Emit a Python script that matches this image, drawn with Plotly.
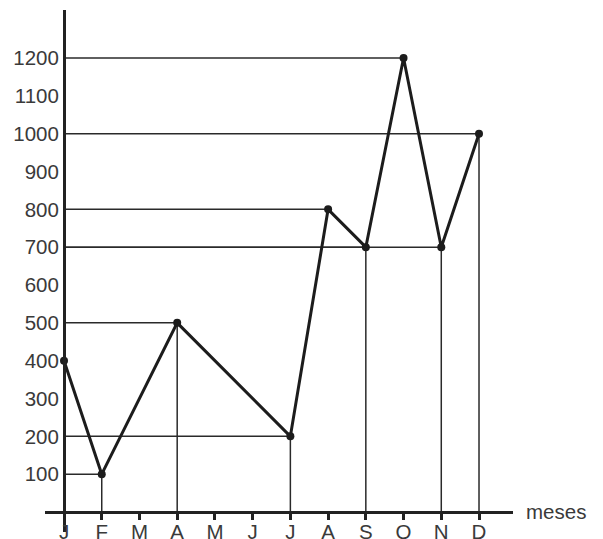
import plotly.graph_objects as go

# ---- data ----
months = ["J", "F", "M", "A", "M", "J", "J", "A", "S", "O", "N", "D"]
values = [400, 100, None, 500, None, None, 200, 800, 700, 1200, 700, 1000]
# which points get a horizontal guide (to the y axis) / vertical guide (to the x axis)
hguide = [False, True, False, True, False, False, True, True, True, True, True, True]
vguide = [False, True, False, True, False, False, True, False, True, False, True, True]
y_ticks = [100, 200, 300, 400, 500, 600, 700, 800, 900, 1000, 1100, 1200]
x_label = "meses"

idx = list(range(len(months)))

# the page body has an 8px default margin; compensate in the plot margins
W, H = 603, 539
ML, MR, MT, MB = 37, 98, 2, 15
xr = [-0.504, 11.901]
yr = [-52.9, 1326.9]

fig = go.Figure()

guide_style = dict(color="#2a2a2a", width=1.5)
for i, v in enumerate(values):
    if v is None:
        continue
    if hguide[i]:
        fig.add_trace(go.Scatter(x=[0, i], y=[v, v], mode="lines",
                                 line=guide_style, hoverinfo="skip", showlegend=False))
    if vguide[i]:
        fig.add_trace(go.Scatter(x=[i, i], y=[0, v], mode="lines",
                                 line=guide_style, hoverinfo="skip", showlegend=False))

fig.add_trace(go.Scatter(
    x=idx, y=values, mode="lines+markers", connectgaps=True,
    line=dict(color="#1c1c1c", width=3),
    marker=dict(color="#1c1c1c", size=8),
    showlegend=False,
))

fnt = dict(family="Liberation Sans, Arial, sans-serif", size=20.5, color="#3a3a3a")

fig.update_layout(
    width=W, height=H,
    margin=dict(l=ML, r=MR, t=MT, b=MB, pad=0, autoexpand=False),
    paper_bgcolor="white", plot_bgcolor="white",
    font=fnt,
    xaxis=dict(
        range=xr, tickmode="array", tickvals=idx, ticktext=months,
        showgrid=False, zeroline=False, automargin=False,
        showline=True, linewidth=3, linecolor="#222",
        ticks="outside", ticklen=6, tickwidth=3, tickcolor="#222",
        anchor="free", position=(0 - yr[0]) / (yr[1] - yr[0]),
        tickfont=fnt, ticklabelstandoff=-6,
    ),
    yaxis=dict(
        range=yr, tickmode="array", tickvals=y_ticks,
        ticktext=[str(t) for t in y_ticks],
        showgrid=False, zeroline=False, automargin=False,
        showline=True, linewidth=3, linecolor="#222",
        ticks="", anchor="free", position=(0 - xr[0]) / (xr[1] - xr[0]),
        tickfont=fnt, ticklabelstandoff=0,
    ),
    annotations=[dict(
        text=x_label, xref="paper", x=1, xanchor="left", xshift=11,
        yref="y", y=0, yanchor="middle", showarrow=False, font=fnt,
    )],
)

fig.write_html("out.html")
